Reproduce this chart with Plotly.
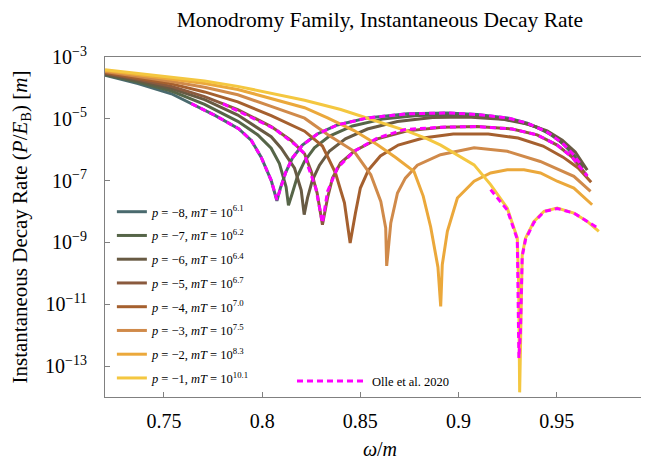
import numpy as np
import plotly.graph_objs as go

# omega/m samples and log10 of decay rate (P/E_B in units of m)
omega_m8 = [0.720, 0.7368, 0.7538, 0.764, 0.7707, 0.776, 0.788, 0.7945, 0.7995, 0.8046, 0.8075,
            0.8093, 0.8119, 0.8154, 0.8205, 0.8281, 0.8383, 0.8536, 0.8739, 0.8943, 0.9095,
            0.9248, 0.9350, 0.9451, 0.9528, 0.9578, 0.9629]
logr_m8 = [-3.59, -3.86, -4.19, -4.51, -4.71, -4.89, -5.32, -5.70, -6.24, -6.99, -7.65,
           -7.24, -6.75, -6.27, -5.85, -5.49, -5.20, -4.97, -4.84, -4.81, -4.86,
           -4.97, -5.14, -5.43, -5.78, -6.11, -6.53]

omega_m7 = [0.720, 0.7368, 0.7538, 0.7707, 0.7876, 0.7978, 0.8046, 0.8088, 0.8122, 0.8134,
            0.8154, 0.8180, 0.8216, 0.8266, 0.8343, 0.8460, 0.8612, 0.8790, 0.8968, 0.9146,
            0.9299, 0.9400, 0.9492, 0.9563, 0.9634]
logr_m7 = [-3.57, -3.81, -4.10, -4.53, -5.08, -5.52, -5.95, -6.45, -7.21, -7.80,
           -7.40, -6.85, -6.37, -5.94, -5.56, -5.23, -5.01, -4.89, -4.88, -4.94,
           -5.07, -5.27, -5.59, -5.98, -6.59]

omega_m6 = [0.720, 0.7368, 0.7538, 0.7707, 0.7876, 0.8046, 0.8097, 0.8165, 0.8199, 0.8214,
            0.8231, 0.8256, 0.8292, 0.8343, 0.8424, 0.8536, 0.8689, 0.8867, 0.9045, 0.9223,
            0.9350, 0.9451, 0.9528, 0.9594, 0.9655]
logr_m6 = [-3.55, -3.76, -4.02, -4.38, -4.88, -5.58, -5.95, -6.60, -7.31, -8.10,
           -7.56, -6.98, -6.50, -6.04, -5.65, -5.33, -5.09, -4.96, -4.94, -5.01,
           -5.17, -5.39, -5.69, -6.07, -6.66]

omega_m5 = [0.720, 0.7368, 0.7538, 0.7707, 0.7876, 0.8046, 0.8148, 0.8216, 0.8250, 0.8280, 0.8307,
            0.8333, 0.8358, 0.8399, 0.8470, 0.8587, 0.8739, 0.8917, 0.9095, 0.9273,
            0.9400, 0.9502, 0.9578, 0.9655]
logr_m5 = [-3.52, -3.72, -3.95, -4.28, -4.70, -5.25, -5.70, -6.13, -6.70, -7.40, -8.43,
           -7.56, -6.92, -6.43, -6.04, -5.65, -5.39, -5.27, -5.25, -5.33,
           -5.52, -5.85, -6.24, -6.85]

omega_m4 = [0.720, 0.7368, 0.7538, 0.7707, 0.7876, 0.8046, 0.8216, 0.8307, 0.8373, 0.8419, 0.8448,
            0.8475, 0.8500, 0.8541, 0.8602, 0.8693, 0.8820, 0.8973, 0.9151, 0.9303,
            0.9430, 0.9532, 0.9609, 0.9675]
logr_m4 = [-3.50, -3.68, -3.87, -4.13, -4.45, -4.90, -5.40, -5.88, -6.75, -7.72, -9.02,
           -8.05, -7.24, -6.66, -6.20, -5.85, -5.62, -5.49, -5.49, -5.62,
           -5.88, -6.24, -6.59, -7.05]

omega_m3 = [0.720, 0.7368, 0.7538, 0.7707, 0.7876, 0.8046, 0.8216, 0.8333, 0.8468, 0.8553,
            0.8604, 0.8629, 0.8634, 0.8655, 0.8689, 0.8729, 0.8790, 0.8908, 0.9079,
            0.9248, 0.9416, 0.9587, 0.9672]
logr_m3 = [-3.47, -3.63, -3.79, -3.98, -4.22, -4.60, -4.98, -5.51, -6.05, -6.81,
           -7.67, -8.53, -9.76, -8.37, -7.40, -6.92, -6.50, -6.16, -5.94,
           -6.05, -6.38, -6.86, -7.35]

omega_m2 = [0.720, 0.7368, 0.7538, 0.7707, 0.7876, 0.8046, 0.8216, 0.8333, 0.8468, 0.8587,
            0.8680, 0.8773, 0.8820, 0.8858, 0.8895, 0.8909, 0.8917, 0.8943, 0.8994,
            0.9079, 0.9163, 0.9248, 0.9333, 0.9417, 0.9502, 0.9587, 0.9680]
logr_m2 = [-3.44, -3.58, -3.71, -3.86, -4.05, -4.35, -4.64, -4.97, -5.38, -5.84,
           -6.25, -6.70, -7.50, -8.50, -9.80, -11.07, -9.72, -8.64, -7.56,
           -7.02, -6.75, -6.65, -6.65, -6.75, -7.02, -7.24, -7.78]

omega_m1 = [0.720, 0.7368, 0.7538, 0.7707, 0.7876, 0.8046, 0.8216, 0.8400, 0.8587, 0.8739,
            0.8841, 0.8909, 0.9079, 0.9163, 0.9248, 0.9299, 0.9306, 0.9311, 0.9324,
            0.9341, 0.9384, 0.9435, 0.9502, 0.9587, 0.9655, 0.9714]
logr_m1 = [-3.41, -3.54, -3.65, -3.78, -3.95, -4.17, -4.40, -4.70, -5.10, -5.40,
           -5.65, -5.85, -6.49, -7.13, -7.89, -8.86, -10.40, -13.85, -9.40,
           -8.86, -8.32, -7.99, -7.89, -8.05, -8.32, -8.64]

# Olle et al. 2020 (three branches)
olle_omega_a = [0.764, 0.776, 0.788, 0.7945, 0.7995, 0.8046, 0.8075, 0.8093, 0.8119, 0.8154,
                0.8205, 0.8281, 0.8383, 0.8536, 0.8739, 0.8943, 0.9095, 0.9248, 0.9350,
                0.9451, 0.9528, 0.9578, 0.9629]
olle_logr_a = [-4.51, -4.89, -5.32, -5.70, -6.24, -6.99, -7.62, -7.24, -6.75, -6.27,
               -5.85, -5.49, -5.20, -4.97, -4.84, -4.81, -4.86, -4.97, -5.14,
               -5.43, -5.78, -6.11, -6.53]
olle_omega_b = [0.7800, 0.7927, 0.8063, 0.8173, 0.8216, 0.8231, 0.8273, 0.8307, 0.8333, 0.8383,
                0.8468, 0.8587, 0.8723, 0.8917, 0.9095, 0.9273, 0.9400, 0.9502, 0.9578, 0.9655]
olle_logr_b = [-4.51, -4.89, -5.32, -5.86, -6.13, -6.49, -7.24, -8.37, -7.35, -6.59,
               -6.05, -5.62, -5.35, -5.27, -5.25, -5.33, -5.52, -5.85, -6.24, -6.85]
olle_omega_c = [0.9163, 0.9248, 0.9299, 0.9307, 0.9315, 0.9324, 0.9341, 0.9384, 0.9435,
                0.9502, 0.9587, 0.9655, 0.9714]
olle_logr_c = [-7.29, -7.95, -8.90, -12.74, -11.87, -9.45, -8.90, -8.35, -8.00,
               -7.90, -8.05, -8.32, -8.55]

p_values = [-8, -7, -6, -5, -4, -3, -2, -1]
log_mT = ['6.1', '6.2', '6.4', '6.7', '7.0', '7.5', '8.3', '10.1']
omegas = [omega_m8, omega_m7, omega_m6, omega_m5, omega_m4, omega_m3, omega_m2, omega_m1]
logrs = [logr_m8, logr_m7, logr_m6, logr_m5, logr_m4, logr_m3, logr_m2, logr_m1]
colors = ['#4a6a6e', '#566548', '#685a43', '#8a5a3e', '#a5602f', '#d08a4a', '#eba83b', '#f4c740']

FONT = 'Liberation Serif'

fig = go.Figure()
for idx, p in enumerate(p_values):
    name = '<i>p</i> = \u2212%d, <i>mT</i> = 10<sup>%s</sup>' % (-p, log_mT[idx])
    fig.add_trace(go.Scatter(
        x=omegas[idx], y=[10 ** v for v in logrs[idx]],
        mode='lines', name=name, legendgroup='g%d' % idx,
        line=dict(color=colors[idx], width=3)))

olle_x = olle_omega_a + [None] + olle_omega_b + [None] + olle_omega_c
olle_y = ([10 ** v for v in olle_logr_a] + [None] + [10 ** v for v in olle_logr_b]
          + [None] + [10 ** v for v in olle_logr_c])
fig.add_trace(go.Scatter(
    x=olle_x, y=olle_y, mode='lines', name='Olle et al. 2020', legend='legend2',
    connectgaps=False, line=dict(color='#ff00ff', width=3, dash='6px,4px')))

ytick_vals = [1e-3, 1e-5, 1e-7, 1e-9, 1e-11, 1e-13]
ytick_text = ['10<sup>\u22123</sup>', '10<sup>\u22125</sup>', '10<sup>\u22127</sup>',
              '10<sup>\u22129</sup>', '10<sup>\u221211</sup>', '10<sup>\u221213</sup>']
xtick_vals = [0.75, 0.8, 0.85, 0.9, 0.95, 1.0]
xtick_text = ['0.75', '0.8', '0.85', '0.9', '0.95', '1']

fig.update_layout(
    width=649, height=458,
    margin=dict(l=97, r=2, t=49, b=69),
    paper_bgcolor='white', plot_bgcolor='white',
    font=dict(family=FONT, size=20, color='black'),
    title=dict(text='Monodromy Family, Instantaneous Decay Rate', x=0.573, xanchor='center',
               y=0.975, yanchor='middle', font=dict(family=FONT, size=21.5, color='black')),
    xaxis=dict(range=[0.72, 1.0], tickvals=xtick_vals, ticktext=xtick_text,
               ticks='inside', ticklen=5, tickcolor='#808080', showline=True, mirror=True,
               linecolor='#808080', linewidth=1, showgrid=False, zeroline=False,
               ticklabelstandoff=6, ticklabeloverflow='allow', automargin=False,
               title=dict(text='<i>\u03c9</i>/<i>m</i>', standoff=10, font=dict(size=20))),
    yaxis=dict(type='log', range=[-14, -3], tickvals=ytick_vals, ticktext=ytick_text,
               ticks='inside', ticklen=5, tickcolor='#808080', showline=True, mirror=True,
               linecolor='#808080', linewidth=1, showgrid=False, zeroline=False,
               ticklabelstandoff=13, automargin=False,
               title=dict(text='Instantaneous Decay Rate (<i>P</i>/<i>E</i><sub>B</sub>) [<i>m</i>]',
                          standoff=14, font=dict(size=21))),
    legend=dict(x=0.0125, y=0.588, xanchor='left', yanchor='top', bgcolor='rgba(0,0,0,0)',
                font=dict(family=FONT, size=12.5), tracegroupgap=4.5),
    legend2=dict(x=0.340, y=0.09, xanchor='left', yanchor='top', bgcolor='rgba(0,0,0,0)',
                 font=dict(family=FONT, size=12.5), itemwidth=70),
)

fig.write_html("out.html")
